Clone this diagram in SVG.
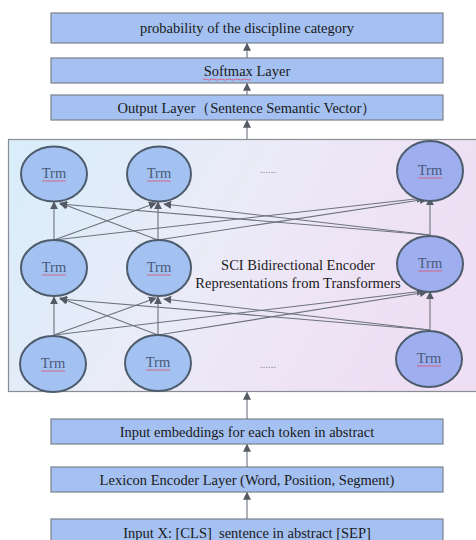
<svg xmlns="http://www.w3.org/2000/svg" width="476" height="540" viewBox="0 0 476 540">
<defs>
<linearGradient id="pg" x1="0" y1="0" x2="1" y2="0.3">
<stop offset="0" stop-color="#d8edfa"/>
<stop offset="0.5" stop-color="#ebebf8"/>
<stop offset="1" stop-color="#efdff4"/>
</linearGradient>
<marker id="ah" viewBox="0 0 10 10" refX="9" refY="5" markerWidth="8" markerHeight="8" orient="auto" markerUnits="userSpaceOnUse">
<path d="M0,0 L10,5 L0,10 z" fill="#555b65"/>
</marker>
<style>
.box{fill:#a4c1f1;stroke:#7c818a;stroke-width:1.2}
.bt{font-family:"Liberation Serif",serif;font-size:14.5px;fill:#1a1a1a;text-anchor:middle}
.c{fill:#a3c2f2;stroke:#4d5c6c;stroke-width:2}
.cr{fill:#9eaeef;stroke:#4d5c6c;stroke-width:2}
.tt{font-family:"Liberation Serif",serif;font-size:14.5px;fill:#4a5a7a;text-anchor:middle}
.ul{stroke:#e0506a;stroke-width:0.8;fill:none}
.ln{stroke:#6c727c;stroke-width:1.1;fill:none;marker-end:url(#ah)}
.dots{font-family:"Liberation Serif",serif;font-size:11px;fill:#8a8a9a;text-anchor:middle}
</style>
</defs>
<rect width="476" height="540" fill="#ffffff"/>
<g id="panel">
<rect x="8.5" y="139.5" width="470" height="252" fill="url(#pg)" stroke="#8a8e94" stroke-width="1.2"/>
<text class="bt" x="298" y="270">SCI Bidirectional Encoder</text>
<text class="bt" x="298" y="288">Representations from Transformers</text>
<text class="dots" x="268" y="173">......</text>
<text class="dots" x="268" y="368">......</text>
</g>
<g id="box-prob"><rect class="box" x="51" y="13" width="392" height="30"/><text class="bt" x="247" y="33">probability of the discipline category</text></g>
<g id="box-softmax"><rect class="box" x="51" y="58" width="392" height="25"/><text class="bt" x="247" y="75.5">Softmax Layer</text><path class="ul" d="M203,79.5 q2,-1 4,0 t4,0 t4,0 t4,0 t4,0 t4,0 t4,0 t4,0 t4,0 t4,0 t4,0 t4,0"/></g>
<g id="box-output"><rect class="box" x="51" y="95" width="392" height="25"/><text class="bt" x="247" y="112.5">Output Layer（Sentence Semantic Vector）</text></g>
<g id="box-embed"><rect class="box" x="51" y="419" width="392" height="25"/><text class="bt" x="247" y="436.5">Input embeddings for each token in abstract</text></g>
<g id="box-lexicon"><rect class="box" x="51" y="467" width="392" height="25"/><text class="bt" x="247" y="484.5">Lexicon Encoder Layer (Word, Position, Segment)</text></g>
<g id="box-input"><rect class="box" x="51" y="519" width="392" height="30"/><text class="bt" x="247" y="537.5">Input X: [CLS]&#160; sentence in abstract [SEP]</text></g>
<g id="connectors">
<line class="ln" x1="247" y1="58" x2="247" y2="43.5"/>
<line class="ln" x1="247" y1="95" x2="247" y2="83.5"/>
<line class="ln" x1="247" y1="139" x2="247" y2="120.5"/>
<line class="ln" x1="247" y1="419" x2="247" y2="392.5"/>
<line class="ln" x1="247" y1="467" x2="247" y2="444.5"/>
<line class="ln" x1="247" y1="519" x2="247" y2="492.5"/>
<line class="ln" x1="54" y1="240" x2="54" y2="202"/>
<line class="ln" x1="54" y1="240" x2="156" y2="203"/>
<line class="ln" x1="54" y1="240" x2="424" y2="198"/>
<line class="ln" x1="158" y1="240" x2="60" y2="203"/>
<line class="ln" x1="158" y1="240" x2="158" y2="202"/>
<line class="ln" x1="158" y1="240" x2="427" y2="199"/>
<line class="ln" x1="430" y1="235" x2="60" y2="204"/>
<line class="ln" x1="430" y1="235" x2="164" y2="204"/>
<line class="ln" x1="430" y1="235" x2="430" y2="198"/>
<line class="ln" x1="54" y1="335" x2="54" y2="297"/>
<line class="ln" x1="54" y1="335" x2="156" y2="298"/>
<line class="ln" x1="54" y1="335" x2="424" y2="291"/>
<line class="ln" x1="158" y1="335" x2="60" y2="298"/>
<line class="ln" x1="158" y1="335" x2="158" y2="297"/>
<line class="ln" x1="158" y1="335" x2="427" y2="292"/>
<line class="ln" x1="430" y1="330" x2="60" y2="299"/>
<line class="ln" x1="430" y1="330" x2="164" y2="299"/>
<line class="ln" x1="430" y1="330" x2="430" y2="292"/>
</g>
<g id="trm-t1"><ellipse class="c" cx="54" cy="174" rx="33" ry="27.5"/><text class="tt" x="54" y="178">Trm</text><path class="ul" d="M42,181 h24"/></g>
<g id="trm-t2"><ellipse class="c" cx="159" cy="174" rx="32" ry="27.5"/><text class="tt" x="159" y="178">Trm</text><path class="ul" d="M147,181 h24"/></g>
<g id="trm-t3"><ellipse class="cr" cx="430" cy="171" rx="33" ry="30"/><text class="tt" x="430" y="175">Trm</text><path class="ul" d="M418,178 h24"/></g>
<g id="trm-m1"><ellipse class="c" cx="54" cy="268" rx="33" ry="28"/><text class="tt" x="54" y="272">Trm</text><path class="ul" d="M42,275 h24"/></g>
<g id="trm-m2"><ellipse class="c" cx="159" cy="268" rx="32" ry="28"/><text class="tt" x="159" y="272">Trm</text><path class="ul" d="M147,275 h24"/></g>
<g id="trm-m3"><ellipse class="cr" cx="430" cy="264" rx="33" ry="28"/><text class="tt" x="430" y="268">Trm</text><path class="ul" d="M418,271 h24"/></g>
<g id="trm-b1"><ellipse class="c" cx="53" cy="364" rx="33" ry="28"/><text class="tt" x="53" y="368">Trm</text><path class="ul" d="M41,371 h24"/></g>
<g id="trm-b2"><ellipse class="c" cx="158" cy="363" rx="33" ry="28"/><text class="tt" x="158" y="367">Trm</text><path class="ul" d="M146,370 h24"/></g>
<g id="trm-b3"><ellipse class="cr" cx="429" cy="359" rx="33" ry="28"/><text class="tt" x="429" y="363">Trm</text><path class="ul" d="M417,366 h24"/></g>
</svg>
